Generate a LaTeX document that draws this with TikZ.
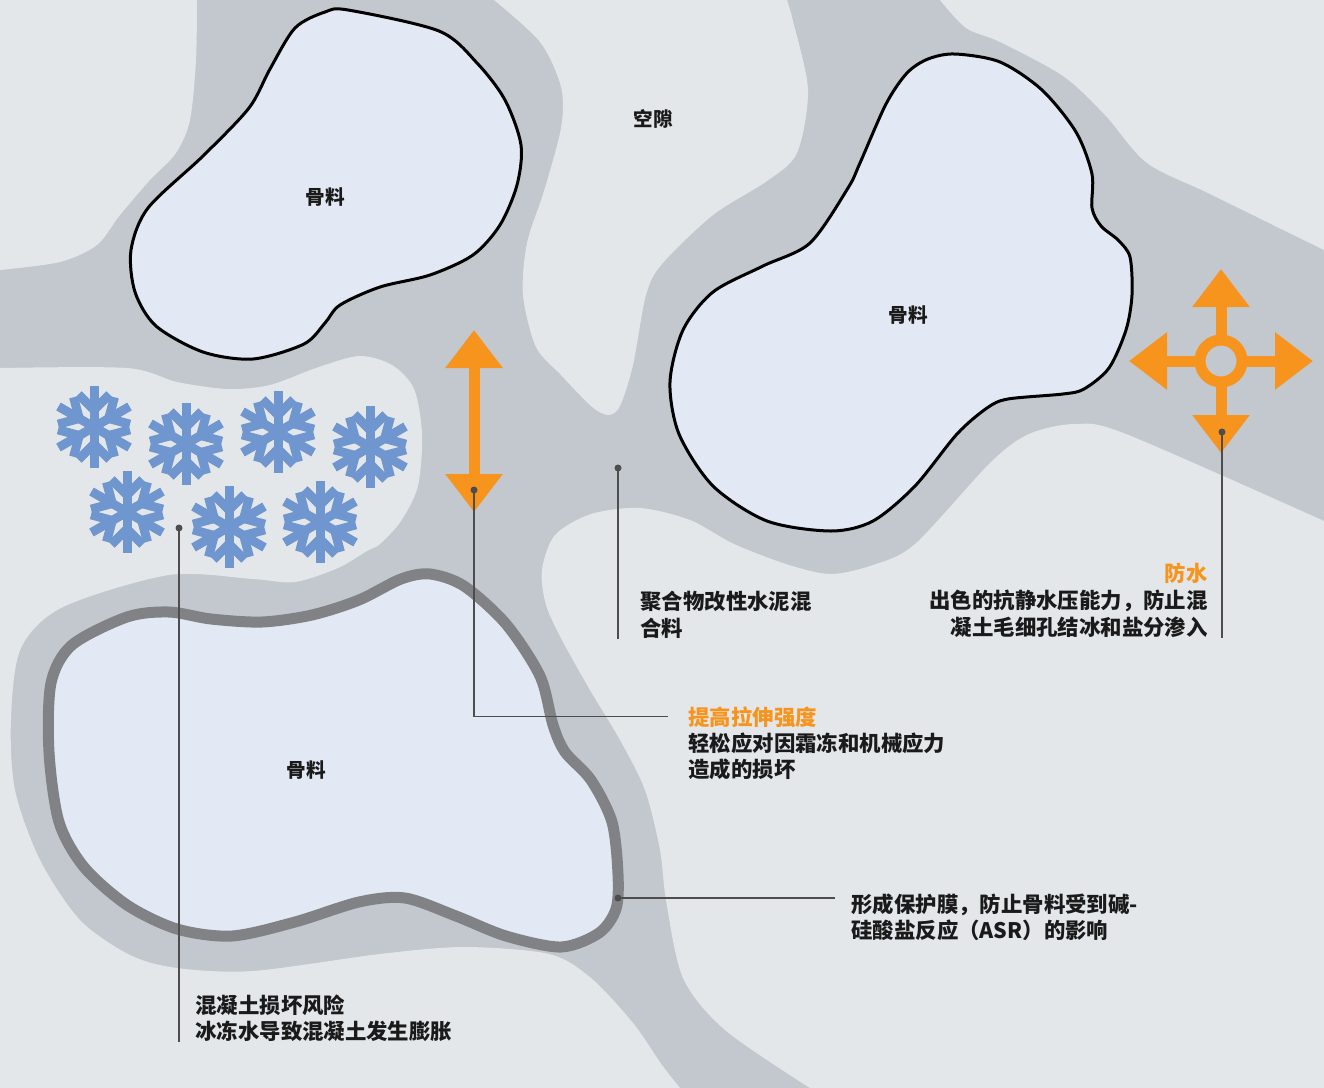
\documentclass[tikz,border=0pt]{standalone}
\usepackage{fontspec}
\setmainfont{Noto Sans CJK SC}
\usetikzlibrary{arrows.meta,calc}

\definecolor{pastec}{HTML}{C2C8CE}
\definecolor{porec}{HTML}{E3E7EA}
\definecolor{stonec}{HTML}{E3E9F4}
\definecolor{filmc}{HTML}{808285}
\definecolor{accentc}{HTML}{F7941D}
\definecolor{icec}{HTML}{6F96CF}
\definecolor{leaderc}{HTML}{4D4D4D}
\definecolor{inkc}{HTML}{1A1A1A}

\begin{document}
\begin{tikzpicture}[x=0.5pt,y=-0.5pt,
    aggregate/.style={fill=stonec,draw=black,line width=1.5pt},
    coated/.style={fill=stonec,draw=filmc,line width=5.5pt},
    label/.style={font=\bfseries\fontsize{9.8}{12}\selectfont,text=inkc},
    note/.style={font=\bfseries\fontsize{10.7}{13.3}\selectfont,text=inkc,inner sep=0pt,align=left},
    title/.style={note,text=accentc},
    leader/.style={draw=leaderc,line width=0.6pt},
    bolt/.style={draw=accentc,line width=5.5pt},
    >={Triangle[width=27.5pt,length=19pt]},
    flake/.pic={
        \foreach \a in {30,90,...,330} {
            \draw[icec,line width=4.5pt] (0,0) -- (\a:41);
            \draw[icec,line width=4.5pt] (\a:17) -- ++(\a+45:22);
            \draw[icec,line width=4.5pt] (\a:17) -- ++(\a-45:22);
        }
    }]
    \useasboundingbox (0,0) rectangle (1324,1088);

    % cement paste and the pores in it
    \fill[pastec] (0,0) rectangle (1324,1088);
    \fill[porec] plot[smooth] coordinates {(197,0) (196,60) (190,120) (176,153) (150,180) (120,215) (97,245) (60,262) (0,270)} -- (0,0) -- cycle;
    \fill[porec] plot[smooth] coordinates {(494,0) (540,42) (561,87) (561,128) (544,191) (527,243) (523,295) (536,347) (561,375) (591,406) (608,415) (620,406) (633,365) (646,295) (662,264) (713,215) (767,181) (797,153) (808,90) (793,21) (787,0)} -- cycle;
    \fill[porec] plot[smooth] coordinates {(940,0) (966,28) (1000,42) (1063,76) (1105,115) (1147,163) (1210,194) (1324,250)} -- (1324,0) -- cycle;
    \fill[porec] plot[smooth] coordinates {(0,368) (127,368) (177,382) (228,389) (270,385) (316,368) (359,356) (392,365) (414,389) (422,434) (418,486) (401,521) (380,544) (367,551) (338,568) (295,582) (253,579) (169,575) (63,607) (21,648) (11,718) (15,790) (40,860) (80,920) (130,955) (177,968) (253,971) (380,954) (464,947) (549,954) (591,978) (633,1023) (662,1065) (680,1088)} -- (0,1088) -- cycle;
    \fill[porec] plot[smooth] coordinates {(1324,521) (1126,434) (1075,424) (1029,434) (991,462) (915,544) (873,565) (831,574) (789,565) (734,544) (690,520) (640,508) (591,514) (555,535) (542,570) (546,605) (562,640) (590,690) (620,740) (645,790) (660,850) (666,900) (683,978) (725,1030) (810,1088)} -- (1324,1088) -- cycle;

    % aggregates
    \draw[aggregate] plot[smooth cycle] coordinates {(348,10) (439,31) (477,63) (505,100) (521,145) (517,185) (500,225) (473,255) (430,275) (380,287) (340,305) (325,323) (304,344) (253,359) (203,352) (156,326) (135,292) (131,250) (148,208) (203,156) (249,108) (270,69) (295,28) (325,12)};
    \draw[aggregate] plot[smooth cycle] coordinates {(955,54) (1000,62) (1042,90) (1076,132) (1092,174) (1092,208) (1101,226) (1118,240) (1130,257) (1132,295) (1126,330) (1109,368) (1084,389) (1063,394) (1008,399) (987,408) (957,434) (915,486) (873,521) (831,531) (767,521) (713,486) (679,434) (670,382) (683,330) (713,292) (763,266) (810,243) (848,188) (860,163) (886,104) (907,73) (928,59)};
    \draw[coated] plot[smooth cycle] coordinates {(430,574) (464,586) (506,624) (540,676) (553,725) (565,752) (591,780) (612,822) (618,874) (616,909) (599,933) (561,947) (506,936) (456,916) (405,898) (359,902) (295,922) (232,936) (177,929) (127,905) (84,867) (59,822) (49,752) (51,683) (72,645) (127,617) (169,612) (211,619) (262,622) (312,615) (359,600) (401,579)};

    \node[label] (agg1) at (325,197) {骨料};
    \node[label] (agg2) at (908,315) {骨料};
    \node[label] (agg3) at (306,770) {骨料};
    \node[label] (void) at (653,119) {空隙};

    % ice crystals
    \foreach \x/\y in {94/427,186/444,278/432,370/447,127/512,229/527,320/522}
        \pic at (\x,\y) {flake};

    % tension arrow
    \coordinate (tenstop) at (474,330);
    \coordinate (tensbot) at (474,512);
    \draw[bolt,<->] (tenstop) -- (tensbot);

    % pressure arrows
    \coordinate (waterc) at (1221,361);
    \draw[bolt] (waterc) circle (21);
    \foreach \a in {0,90,180,270}
        \draw[bolt,->] ($(waterc)+(\a:26)$) -- ($(waterc)+(\a:92)$);

    % texts
    \node[note,anchor=north west] (polytxt) at (640,591) {聚合物改性水泥混\\合料};
    \node[title,anchor=north east] (watertitle) at (1208,563) {防水};
    \node[note,align=right,anchor=north east] (waterbody) at (1208,590) {出色的抗静水压能力，防止混\\凝土毛细孔结冰和盐分渗入};
    \node[title,anchor=north west] (tenstitle) at (688,706) {提高拉伸强度};
    \node[note,anchor=north west] (tensbody) at (688,732) {轻松应对因霜冻和机械应力\\造成的损坏};
    \node[note,anchor=north west] (filmtxt) at (851,893) {形成保护膜，防止骨料受到碱-\\硅酸盐反应（ASR）的影响};
    \node[note,anchor=north west] (frosttxt) at (195,994) {混凝土损坏风险\\冰冻水导致混凝土发生膨胀};

    % leader lines
    \coordinate (frostdot) at (179,528);
    \coordinate (tensdot) at (474,490);
    \coordinate (polydot) at (618,468);
    \coordinate (waterdot) at (1222,432);
    \coordinate (filmdot) at (618,898);
    \draw[leader] (frostdot) -- (frostdot |- frosttxt.south);
    \draw[leader] (tensdot) |- ($(tenstitle.west)+(-20,0)$);
    \draw[leader] (polydot) -- (polydot |- polytxt.south);
    \draw[leader] (waterdot) -- (waterdot |- waterbody.south);
    \draw[leader] (filmdot) -- ($(filmdot -| filmtxt.west)+(-16,0)$);
    \foreach \d in {frostdot,tensdot,polydot,waterdot,filmdot}
        \fill[leaderc] (\d) circle (3.5);
\end{tikzpicture}
\end{document}
